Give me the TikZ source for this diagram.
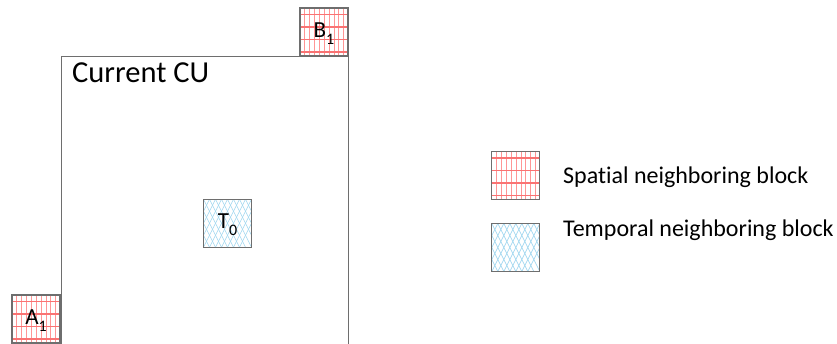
\documentclass[tikz,border=0pt]{standalone}
\usepackage{fontspec}
\setmainfont{Carlito}[RawFeature={-liga}]
\usetikzlibrary{calc}
\definecolor{gridred}{RGB}{255,150,150}
\definecolor{gridredh}{RGB}{250,115,115}
\definecolor{hatchblue}{RGB}{160,215,240}
\definecolor{boxgray}{RGB}{110,110,110}
\tikzset{
  blockbox/.style={draw=boxgray, line width=1.3pt, minimum width=48pt, minimum height=48pt, inner sep=0pt, text height=14.5pt, text depth=3.5pt, font=\fontsize{23}{23}\selectfont},
  spatialbox/.style={blockbox, fill=white, path picture={
      \foreach \i in {4.85,9.7,...,45} {
        \draw[gridred, line width=0.8pt] ([xshift=\i pt]path picture bounding box.north west) -- ([xshift=\i pt]path picture bounding box.south west);
      }
      \foreach \j in {6.5,19,31.5,44} {
        \draw[gridredh, line width=1.5pt] ([yshift=-\j pt]path picture bounding box.north west) -- ([yshift=-\j pt]path picture bounding box.north east);
      }
  }},
  temporalbox/.style={blockbox, fill=white, path picture={
      \foreach \i in {-30,-24,...,60} {
        \draw[hatchblue, line width=0.6pt] ([xshift=\i pt]path picture bounding box.north west) -- ++(24,48);
        \draw[hatchblue, line width=0.6pt] ([xshift=\i pt]path picture bounding box.north west) -- ++(-24,48);
      }
  }},
  cubox/.style={draw=boxgray, line width=1pt, minimum width=287pt, minimum height=288pt, inner sep=0pt},
  legtext/.style={anchor=base west, inner sep=0pt, font=\fontsize{24}{24}\selectfont},
}
\newcommand{\subn}[1]{\raisebox{-0.3em}{\fontsize{16}{16}\selectfont #1}}
\begin{document}
\begin{tikzpicture}[x=1pt,y=-1pt]
\useasboundingbox (0,0) rectangle (837,343);
\node[cubox] (cu) at (204.5,200.5) {};
\node[anchor=base west, inner sep=0pt, font=\fontsize{30.5}{30.5}\selectfont] (cutext) at (72,82) {Current CU};
\node[spatialbox] (b1) at (324,32) {B\subn{1}};
\node[spatialbox] (a1) at (36,319) {A\subn{1}};
\node[temporalbox] (t0) at (227.5,223.3) {T\subn{0}};
\node[spatialbox] (legs) at (515.8,175.5) {};
\node[temporalbox] (legt) at (515.8,247.5) {};
\node[legtext] (legstext) at (563,183.3) {Spatial neighboring block};
\node[legtext] (legttext) at (563,236.7) {Temporal neighboring block};
\end{tikzpicture}
\end{document}
